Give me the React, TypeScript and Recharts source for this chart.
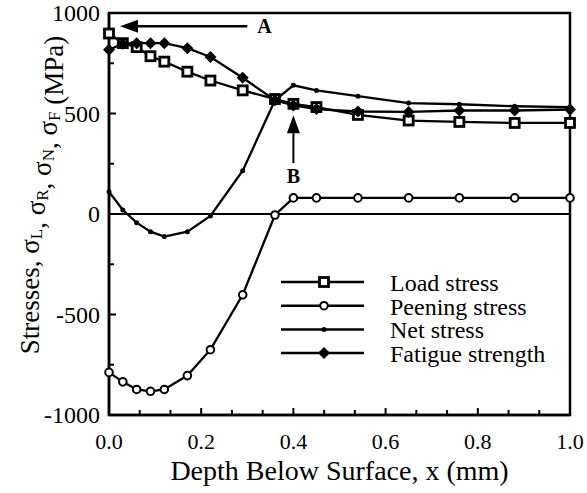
import React from 'react';
import {
  LineChart,
  Line,
  XAxis,
  YAxis,
  Legend,
  ReferenceLine,
  ReferenceArea
} from 'recharts';

// depth below surface (mm)
const depth = [0, 0.03, 0.06, 0.09, 0.12, 0.17, 0.22, 0.29, 0.36, 0.4, 0.45, 0.54, 0.65, 0.76, 0.88, 1.0];
const loadStress = [898, 850, 830, 785, 758, 708, 664, 615, 572, 548, 532, 493, 465, 458, 453, 453];
const peeningStress = [-788, -835, -873, -882, -873, -804, -675, -402, -5, 80, 80, 80, 80, 80, 80, 80];
const netStress = [111, 20, -43, -88, -112, -88, -10, 215, 566, 640, 615, 586, 552, 546, 536, 532];
const fatigueStrength = [817, 847, 850, 850, 850, 825, 781, 678, 566, 540, 522, 510, 508, 515, 515, 520];

const xTicks = Array.from({ length: 16 }, (_, k) => k / 15);
const yTicks = [-1000, -750, -500, -250, 0, 250, 500, 750, 1000];
const legendOrder = ['load', 'peening', 'net', 'fatigue'];

// annotation arrows (data coordinates)
const arrowA = { from: { x: 0.3, y: 934 }, to: { x: 0.024, y: 934 } };
const arrowB = { from: { x: 0.4, y: 253 }, to: { x: 0.4, y: 491 } };

const data = depth.map((d, i) => ({
  depth: d,
  load: loadStress[i],
  peening: peeningStress[i],
  net: netStress[i],
  fatigue: fatigueStrength[i]
}));

const serif = { fontFamily: 'Liberation Serif, Times New Roman, serif' };

const XTick = (props: any) => {
  const { x, y, payload } = props;
  const major = Math.round(payload.value * 15) % 3 === 0;
  return (
    <g>
      <line x1={x} x2={x} y1={y} y2={y - (major ? 7 : 5)} stroke="#000" strokeWidth={2} />
      {major && (
        <text x={x} y={y + 34} textAnchor="middle" fontSize={22} style={serif} fill="#000">
          {payload.value.toFixed(1)}
        </text>
      )}
    </g>
  );
};

const YTick = (props: any) => {
  const { x, y, payload } = props;
  const major = payload.value % 500 === 0;
  return (
    <g>
      <line x1={x} x2={x + (major ? 7 : 5)} y1={y} y2={y} stroke="#000" strokeWidth={2} />
      {major && (
        <text x={x - 9} y={y + 8} textAnchor="end" fontSize={24} style={serif} fill="#000">
          {payload.value}
        </text>
      )}
    </g>
  );
};

const YTitle = (props: any) => {
  const vb = props.viewBox;
  const cy = vb.y + vb.height / 2 - 19;
  const sub = (s: string) => [
    <tspan key={s + 'a'} dy={6} fontSize={17}>{s}</tspan>,
    <tspan key={s + 'b'} dy={-6}></tspan>
  ];
  return (
    <text transform={`translate(30,${cy}) rotate(-90)`} textAnchor="middle" fontSize={27} style={serif} fill="#000" dominantBaseline="central">
      <tspan>Stresses, σ</tspan>
      {sub('L')}
      <tspan>, σ</tspan>
      {sub('R')}
      <tspan>, σ</tspan>
      {sub('N')}
      <tspan>, σ</tspan>
      {sub('F')}
      <tspan> (MPa)</tspan>
    </text>
  );
};

const XTitle = (props: any) => {
  const vb = props.viewBox;
  return (
    <text x={vb.x + vb.width / 2} y={vb.y + 65} textAnchor="middle" fontSize={28} style={serif} fill="#000">
      Depth Below Surface, x (mm)
    </text>
  );
};

const marker = (kind: string, cx: number, cy: number, key?: any) => {
  if (kind === 'load')
    return <rect key={key} x={cx - 4.5} y={cy - 4.5} width={9} height={9} fill="#fff" stroke="#000" strokeWidth={2.8} />;
  if (kind === 'peening')
    return <circle key={key} cx={cx} cy={cy} r={3.8} fill="#fff" stroke="#000" strokeWidth={2} />;
  if (kind === 'net') return <circle key={key} cx={cx} cy={cy} r={2.5} fill="#000" />;
  return (
    <polygon
      key={key}
      points={`${cx},${cy - 6} ${cx + 6},${cy} ${cx},${cy + 6} ${cx - 6},${cy}`}
      fill="#000"
    />
  );
};

const dotFor = (kind: string) => (p: any) => marker(kind, p.cx, p.cy, p.key ?? `${kind}-${p.index}`);

const renderLegend = (props: any) => {
  const items = [...(props.payload || [])].sort(
    (a: any, b: any) => legendOrder.indexOf(a.dataKey) - legendOrder.indexOf(b.dataKey)
  );
  return (
    <svg width={270} height={100} style={{ display: 'block' }}>
      {items.map((e: any, i: number) => {
        const y = 14 + i * 23.7;
        return (
          <g key={e.value}>
            <line x1={0} x2={83} y1={y} y2={y} stroke="#000" strokeWidth={2.5} />
            {marker(e.dataKey, 43, y)}
            <text x={109} y={y + 9} fontSize={24} style={serif} fill="#000">
              {e.value}
            </text>
          </g>
        );
      })}
    </svg>
  );
};

const arrowShape = (letter: string, vertical: boolean) => (p: any) => {
  const { x1, y1, x2, y2 } = p;
  const head = 18;
  const half = 6.5;
  if (vertical) {
    return (
      <g>
        <line x1={x1} y1={y1} x2={x2} y2={y2 + head} stroke="#000" strokeWidth={2} />
        <polygon points={`${x2},${y2} ${x2 - half},${y2 + head} ${x2 + half},${y2 + head}`} fill="#000" />
        <text x={x1} y={y1 + 20} textAnchor="middle" fontSize={20} fontWeight="bold" style={serif} fill="#000">
          {letter}
        </text>
      </g>
    );
  }
  return (
    <g>
      <line x1={x1} y1={y1} x2={x2 + head} y2={y2} stroke="#000" strokeWidth={2.5} />
      <polygon points={`${x2},${y2} ${x2 + head},${y2 - half} ${x2 + head},${y2 + half}`} fill="#000" />
      <text x={x1 + 10} y={y1 + 7} fontSize={20} fontWeight="bold" style={serif} fill="#000">
        {letter}
      </text>
    </g>
  );
};

export default function App() {
  return (
    <div style={{ position: 'absolute', left: 0, top: 0, width: 587, height: 493, background: '#fff' }}>
      <LineChart width={587} height={493} data={data} margin={{ top: 13, right: 17, bottom: 0, left: 0 }}>
        <XAxis
          type="number"
          dataKey="depth"
          domain={[0, 1]}
          ticks={xTicks}
          interval={0}
          height={78}
          tickLine={false}
          tickSize={0}
          tickMargin={0}
          tick={XTick}
          axisLine={{ stroke: '#000', strokeWidth: 2.5 }}
          label={{ content: XTitle }}
        />
        <YAxis
          type="number"
          domain={[-1000, 1000]}
          ticks={yTicks}
          interval={0}
          width={109}
          tickLine={false}
          tickSize={0}
          tickMargin={0}
          tick={YTick}
          axisLine={{ stroke: '#000', strokeWidth: 2.5 }}
          label={{ content: YTitle }}
        />
        <ReferenceArea x1={0} x2={1} y1={-1000} y2={1000} fill="none" stroke="#000" strokeWidth={2.5} />
        <ReferenceLine y={0} stroke="#000" strokeWidth={2} />
        <ReferenceLine segment={[arrowA.from, arrowA.to]} shape={arrowShape('A', false)} />
        <ReferenceLine segment={[arrowB.from, arrowB.to]} shape={arrowShape('B', true)} />
        <Legend
          layout="vertical"
          verticalAlign="middle"
          align="center"
          content={renderLegend}
          wrapperStyle={{ position: 'absolute', left: 281, top: 268, width: 270, height: 100 }}
        />
        <Line dataKey="load" name="Load stress" stroke="#000" strokeWidth={2.3} dot={dotFor('load')} isAnimationActive={false} />
        <Line dataKey="peening" name="Peening stress" stroke="#000" strokeWidth={2.3} dot={dotFor('peening')} isAnimationActive={false} />
        <Line dataKey="net" name="Net stress" stroke="#000" strokeWidth={2.3} dot={dotFor('net')} isAnimationActive={false} />
        <Line dataKey="fatigue" name="Fatigue strength" stroke="#000" strokeWidth={2.3} dot={dotFor('fatigue')} isAnimationActive={false} />
      </LineChart>
    </div>
  );
}
